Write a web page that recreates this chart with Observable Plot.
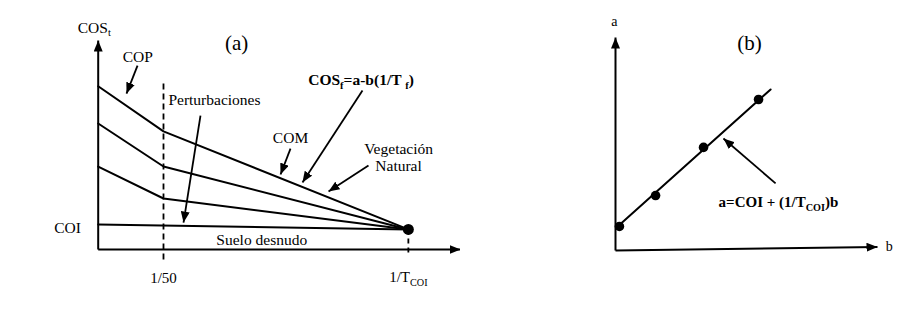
<!DOCTYPE html>
<html><head><meta charset="utf-8">
<script src="https://cdn.jsdelivr.net/npm/d3@7"></script>
<script src="https://cdn.jsdelivr.net/npm/@observablehq/plot@0.6"></script>
<style>
body{margin:0;background:#fff}
#wrap{display:flex;width:921px;height:311px;overflow:hidden}
#wrap svg text{font-family:"Liberation Serif","DejaVu Serif","Times New Roman",serif}
</style>
</head><body><div id="wrap"></div>
<script>
// ---------- Panel (a) data ----------
const aBreaks   = [0, 0.02, 0.095];          // origin, 1/50, 1/T_COI
const copSeries = [78.1, 56.5, 9.6];         // COP (top curve)
const midSeries = [60.3, 39.7, 9.6];
const lowSeries = [39.7, 24.4, 9.6];
const coiX      = [0, 0.095];
const coiSeries = [12.0, 9.6];               // Suelo desnudo / COI
const aTickLabels = ["1/50", "1/T{COI}"];
const aTickValues = [0.02, 0.095];
const aAxisMax = {x: 0.111, y: 100};

const aTexts  = ["COS{t}", "(a)", "COP", "Perturbaciones", "COM", "COS{f}=a-b(1/T {f})", "Vegetación", "Natural", "COI", "Suelo desnudo", "1/T"];
const aTextX  = [-0.0012, 0.0424, 0.0121, 0.0215, 0.0589, 0.0805, 0.0920, 0.0920, -0.0094, 0.0501, 0.1137];
const aTextY  = [106.2, 98.6, 91.9, 71.3, 53.1, 80.9, 48.3, 39.7, 10.5, 4.3, -2.9];

// annotation arrows: from (x1,y1) to (x2,y2)
const aArrowX1 = [0.01204, 0.03133, 0.0589, 0.08095, 0.08279];
const aArrowY1 = [88.0, 64.1, 48.3, 76.1, 40.2];
const aArrowX2 = [0.00867, 0.02613, 0.05585, 0.06257, 0.07054];
const aArrowY2 = [74.6, 12.9, 35.9, 32.1, 27.8];

// ---------- Panel (b) data ----------
const bPointsX = [0.015, 0.153, 0.336, 0.546];
const bPointsY = [0.113, 0.258, 0.484, 0.709];
const bFitX = [0.004, 0.592];
const bFitY = [0.108, 0.756];
const bTexts = ["a", "(b)", "b", "a=COI + (1/T{COI})b"];
const bTextX = [-0.004, 0.511, 1.045, 0.622];
const bTextY = [1.075, 0.972, 0.019, 0.225];
const bArrowX1 = [0.611], bArrowY1 = [0.315], bArrowX2 = [0.412], bArrowY2 = [0.526];
const bAxisEnd = {x: 1, y: 0.016};

// ---------- helpers ----------
function filledArrow(color, context) {
  const doc = (context && context.document) || document;
  const ns = "http://www.w3.org/2000/svg";
  const m = doc.createElementNS(ns, "marker");
  m.setAttribute("viewBox", "-11 -4.5 11 9");
  m.setAttribute("markerWidth", 11);
  m.setAttribute("markerHeight", 9);
  m.setAttribute("markerUnits", "userSpaceOnUse");
  m.setAttribute("refX", 0);
  m.setAttribute("refY", 0);
  m.setAttribute("orient", "auto");
  const p = doc.createElementNS(ns, "path");
  p.setAttribute("d", "M-11,-4.5L0,0L-11,4.5Z");
  p.setAttribute("fill", color === "currentColor" ? "black" : color);
  p.setAttribute("stroke", "none");
  m.appendChild(p);
  return m;
}
function subscripts(svg) {
  svg.querySelectorAll("text").forEach(t => {
    const s = t.textContent;
    if (!s.includes("{")) return;
    const fs = parseFloat(getComputedStyle(t).fontSize) || 15;
    const shift = fs * 0.22;
    t.textContent = "";
    const parts = s.split(/(\{[^}]*\})/).filter(d => d !== "");
    let lowered = false;
    for (const part of parts) {
      const ts = document.createElementNS("http://www.w3.org/2000/svg", "tspan");
      if (part.startsWith("{")) {
        ts.textContent = part.slice(1, -1);
        ts.setAttribute("font-size", (fs * 0.68).toFixed(1));
        if (!lowered) { ts.setAttribute("dy", shift); lowered = true; }
      } else {
        ts.textContent = part;
        if (lowered) { ts.setAttribute("dy", -shift); lowered = false; }
      }
      t.appendChild(ts);
    }
  });
}
const serif = "Liberation Serif";
const idx = n => d3.range(n);

// ---------- Panel (a) ----------
const curves = [];
[copSeries, midSeries, lowSeries].forEach((ys, k) => ys.forEach((y, i) => curves.push({x: aBreaks[i], y, k})));
coiSeries.forEach((y, i) => curves.push({x: coiX[i], y, k: 3}));

const plotA = Plot.plot({
  width: 460, height: 311,
  x: {domain: [0, aAxisMax.x], range: [97.7, 460.1]},
  y: {domain: [0, aAxisMax.y], range: [249, 40]},
  axis: null,
  style: {background: "white", overflow: "visible"},
  marks: [
    Plot.link([0], {x1: 0, y1: 0, x2: 0, y2: aAxisMax.y, stroke: "black", strokeWidth: 2, markerEnd: filledArrow}),
    Plot.link([0], {x1: 0, y1: 0, x2: aAxisMax.x, y2: 0, stroke: "black", strokeWidth: 2, markerEnd: filledArrow}),
    Plot.link([0], {x1: aBreaks[1], x2: aBreaks[1], y1: 79.4, y2: -5.3, stroke: "black", strokeWidth: 1.8, strokeDasharray: "6,4"}),
    Plot.link([0], {x1: aBreaks[2], x2: aBreaks[2], y1: coiSeries[1], y2: -2.4, stroke: "black", strokeWidth: 1.8, strokeDasharray: "5,4"}),
    Plot.line(curves, {x: "x", y: "y", z: "k", stroke: "black", strokeWidth: 2}),
    Plot.dot([0], {x: aBreaks[2], y: coiSeries[1], r: 5.5, fill: "black"}),
    Plot.link(idx(aArrowX1.length), {x1: i => aArrowX1[i], y1: i => aArrowY1[i], x2: i => aArrowX2[i], y2: i => aArrowY2[i], stroke: "black", strokeWidth: 1.8, markerEnd: filledArrow}),
    Plot.text(idx(aTexts.length).filter(i => ![3, 5, 10].includes(i)), {
      x: i => aTextX[i], y: i => aTextY[i], text: i => aTexts[i],
      fontFamily: serif, fontSize: i => i === 1 ? 21 : 15.5, fill: "black"
    }),
    Plot.text([3, 10], {x: i => aTextX[i], y: i => aTextY[i], text: i => aTexts[i], textAnchor: "start", fontFamily: serif, fontSize: i => i === 10 ? 14 : 15.5, fill: "black"}),
    Plot.text([5], {x: i => aTextX[i], y: i => aTextY[i], text: i => aTexts[i], fontFamily: serif, fontWeight: "bold", fontSize: 15.5, fill: "black"}),
    Plot.text(idx(aTickLabels.length), {x: i => aTickValues[i], y: [-13.9, -13.4], text: i => aTickLabels[i], fontFamily: serif, fontSize: 15, fill: "black"})
  ]
});

// ---------- Panel (b) ----------
const plotB = Plot.plot({
  width: 461, height: 311,
  x: {domain: [0, 1], range: [155, 417]},
  y: {domain: [0, 1], range: [250, 37]},
  axis: null,
  style: {background: "white", overflow: "visible"},
  marks: [
    Plot.link([0], {x1: 0, y1: 0, x2: 0, y2: 1, stroke: "black", strokeWidth: 2, markerEnd: filledArrow}),
    Plot.link([0], {x1: 0, y1: 0, x2: bAxisEnd.x, y2: bAxisEnd.y, stroke: "black", strokeWidth: 2, markerEnd: filledArrow}),
    Plot.line(idx(bFitX.length), {x: i => bFitX[i], y: i => bFitY[i], stroke: "black", strokeWidth: 2}),
    Plot.dot(idx(bPointsX.length), {x: i => bPointsX[i], y: i => bPointsY[i], r: 4.8, fill: "black"}),
    Plot.link(idx(bArrowX1.length), {x1: i => bArrowX1[i], y1: i => bArrowY1[i], x2: i => bArrowX2[i], y2: i => bArrowY2[i], stroke: "black", strokeWidth: 1.8, markerEnd: filledArrow}),
    Plot.text([0, 1, 2], {x: i => bTextX[i], y: i => bTextY[i], text: i => bTexts[i], fontFamily: serif, fontSize: i => i === 1 ? 21 : 14, fill: "black"}),
    Plot.text([3], {x: i => bTextX[i], y: i => bTextY[i], text: i => bTexts[i], fontFamily: serif, fontWeight: "bold", fontSize: 15, fill: "black"})
  ]
});

const wrap = document.getElementById("wrap");
wrap.appendChild(plotA);
wrap.appendChild(plotB);
subscripts(plotA);
subscripts(plotB);
</script>
</body></html>
